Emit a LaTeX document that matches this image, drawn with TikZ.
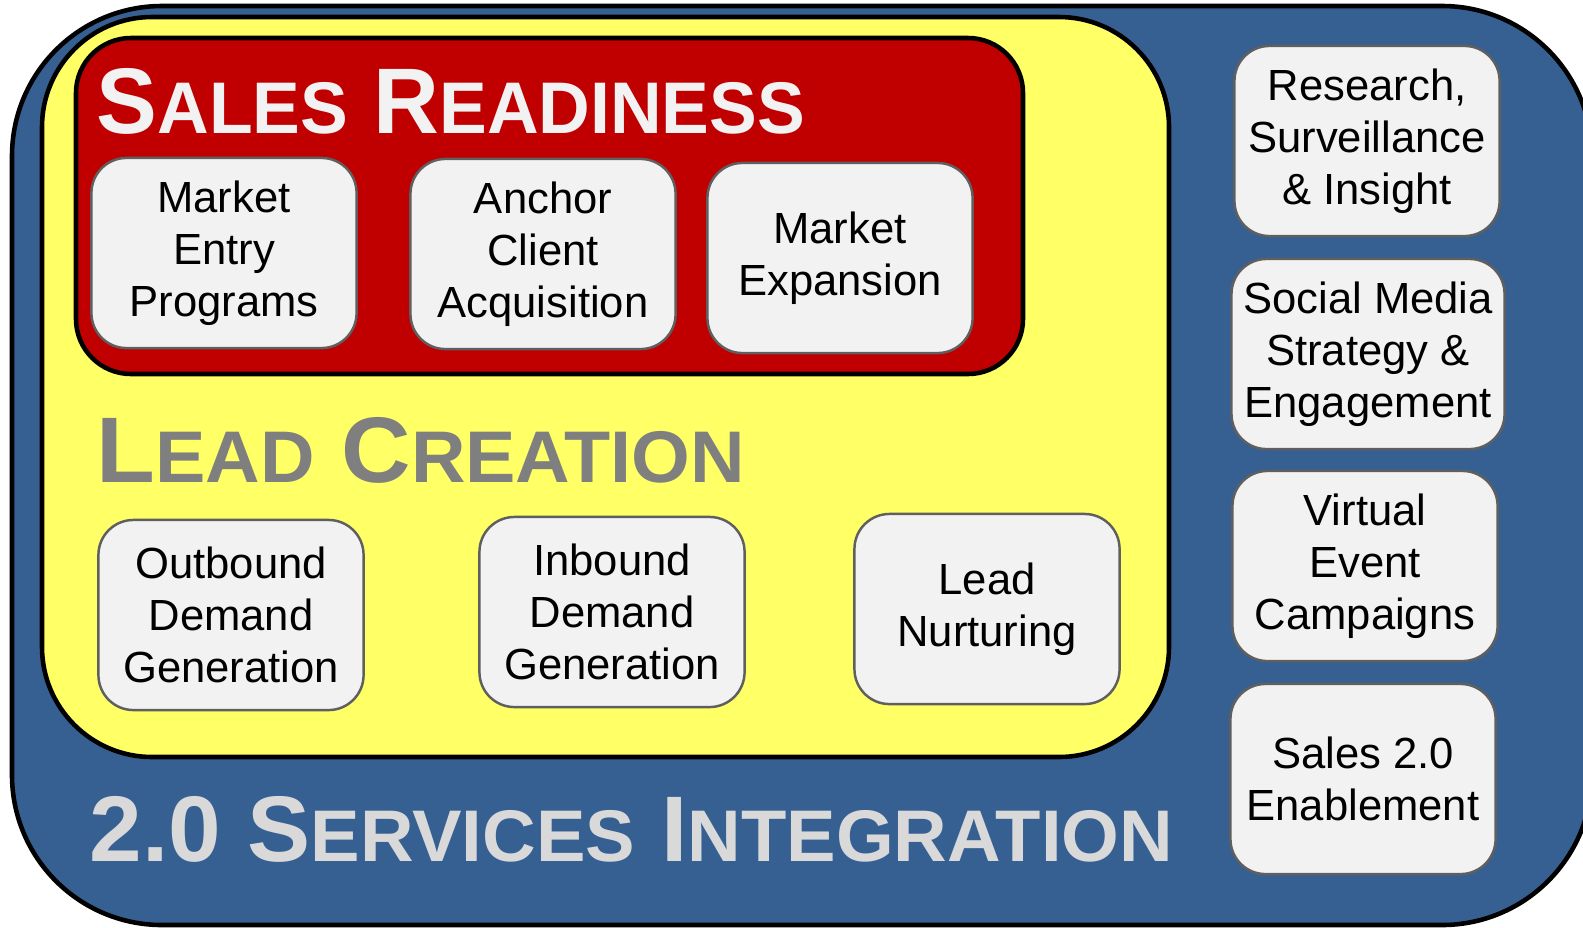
\documentclass[tikz,border=0pt]{standalone}
\usepackage{fontspec}
\setmainfont{Liberation Sans}
\definecolor{outerblue}{HTML}{376092}
\definecolor{leadyellow}{HTML}{FFFF66}
\definecolor{salesred}{HTML}{C00000}
\definecolor{boxgray}{HTML}{F2F2F2}
\definecolor{boxline}{HTML}{5F5F5F}
\definecolor{leadgray}{HTML}{7F7F7F}
\definecolor{servgray}{HTML}{D9D9D9}
\newcommand{\smcap}[1]{{\fontsize{20.8}{24}\selectfont #1}}

\begin{document}
\begin{tikzpicture}[x=0.01cm,y=-0.01cm,
    area/.style={draw=black,line width=1.3pt},
    service/.style={draw=boxline,fill=boxgray,line width=0.7pt,rounded corners=0.35cm,
        minimum width=2.65cm,minimum height=1.9cm,align=center,
        font=\fontsize{12.4}{14.8}\selectfont},
    heading/.style={font=\bfseries\fontsize{26.5}{30}\selectfont,inner sep=0pt,anchor=base west}]
        \clip (0,0) rectangle (1583,927);

        %areas
        \draw[area,fill=outerblue,rounded corners=1.5cm] (12,6) rectangle (1592,925);
        \draw[area,fill=leadyellow,rounded corners=1.1cm] (42,17) rectangle (1169,757);
        \draw[area,fill=salesred,rounded corners=0.55cm] (76,38) rectangle (1023,374);

        %headings
        \node[heading,text=boxgray] (salesready) at (96,133)
            {\scalebox{0.978}[1]{S\smcap{ALES} R\smcap{EADINESS}}};
        \node[heading,text=leadgray] (leadcreate) at (96,482)
            {\scalebox{1.032}[1]{L\smcap{EAD} C\smcap{REATION}}};
        \node[heading,text=servgray] (servint) at (89,861)
            {\scalebox{1.015}[1]{2.0 S\smcap{ERVICES} I\smcap{NTEGRATION}}};

        %sales readiness
        \node[service] (entry) at (224,253) {Market\\Entry\\Programs};
        \node[service] (anchor) at (543,254) {Anchor\\Client\\Acquisition};
        \node[service] (expand) at (840,258) {Market\\Expansion};

        %lead creation
        \node[service] (outbound) at (231,615) {Outbound\\Demand\\Generation};
        \node[service] (inbound) at (612,612) {Inbound\\Demand\\Generation};
        \node[service] (nurture) at (987,609) {Lead\\Nurturing};

        %services
        \node[service] (research) at (1367,141) {Research,\\Surveillance\\\& Insight};
        \node[service] (social) at (1368,354) {Social Media\\Strategy \&\\Engagement};
        \node[service] (virtual) at (1365,566) {Virtual\\Event\\Campaigns};
        \node[service] (enable) at (1363,779) {Sales 2.0\\Enablement};
    \end{tikzpicture}
\end{document}
